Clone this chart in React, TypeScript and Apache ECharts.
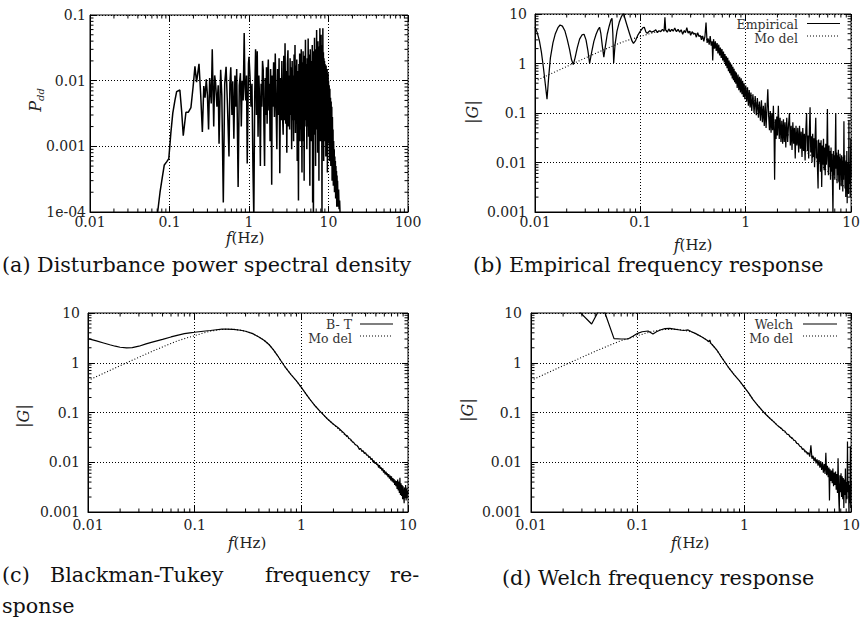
import React, { useEffect, useRef } from "react";
import * as echarts from "echarts";

// ---------------- data ----------------
const psdPoints: [number, number][] = [
  [0.066, 6e-5], [0.071, 1.0e-4], [0.076, 2.0e-4], [0.081, 3.3e-4], [0.086, 5.2e-4], [0.092, 5.8e-4], [0.098, 6.5e-4],
  [0.104, 1.6e-3], [0.11, 3.2e-3], [0.117, 5.0e-3], [0.123, 6.8e-3], [0.135, 7.2e-3], [0.142, 3.5e-3], [0.149, 1.45e-3],
  [0.161, 3.3e-3], [0.172, 3.3e-3], [0.186, 3.9e-3], [0.198, 8e-3], [0.209, 0.0165], [0.219, 9.5e-3], [0.235, 0.018],
  [0.247, 6e-3], [0.259, 1.65e-3], [0.27, 8.3e-3], [0.28, 5.5e-3], [0.29, 0.0105], [0.30, 6.0e-3], [0.31, 1.8e-3],
  [0.32, 0.011], [0.335, 4.5e-3], [0.345, 0.030], [0.36, 2.0e-3], [0.37, 0.012], [0.38, 9.3e-3], [0.395, 4.0e-3],
  [0.41, 8.5e-3], [0.42, 1.1e-3], [0.44, 0.0146], [0.455, 6.0e-3], [0.475, 1.4e-4], [0.495, 9.0e-3], [0.515, 0.0163],
  [0.535, 4.5e-3], [0.56, 7.0e-4], [0.575, 9.0e-3], [0.59, 0.016], [0.61, 3.0e-3], [0.625, 9.8e-3], [0.645, 1.3e-3],
  [0.665, 0.012], [0.685, 4.0e-3], [0.70, 0.015], [0.73, 2.4e-4], [0.755, 8.5e-3], [0.78, 0.013], [0.80, 2.0e-3],
  [0.82, 0.01], [0.845, 5.0e-3], [0.87, 0.053], [0.89, 8.0e-3], [0.91, 5.0e-3], [0.93, 0.012], [0.95, 5.5e-4],
  [0.97, 3.6e-3], [0.985, 0.018],
  [1.00, 0.023], [1.03, 0.0115], [1.06, 0.004], [1.09, 0.009], [1.12, 5e-4], [1.15, 8e-5], [1.18, 0.006], [1.21, 0.03],
  [1.24, 0.003], [1.27, 0.028], [1.30, 0.0014], [1.33, 0.012], [1.36, 0.005], [1.39, 5e-4], [1.42, 0.009], [1.45, 0.004],
  [1.48, 0.02], [1.51, 0.0146], [1.54, 0.002], [1.57, 5e-4], [1.60, 0.011], [1.63, 0.003], [1.66, 0.016], [1.69, 0.0022],
  [1.72, 0.012], [1.75, 0.021], [1.78, 0.0035], [1.81, 0.009], [1.84, 0.0012], [1.87, 0.015], [1.90, 0.005], [1.93, 2.6e-4],
  [1.96, 0.012], [1.99, 0.004],
  [2.04, 0.019], [2.09, 0.0028], [2.14, 0.026], [2.19, 0.004], [2.24, 0.0009], [2.29, 0.015], [2.34, 0.003], [2.39, 0.022],
  [2.44, 3.9e-4], [2.49, 0.011], [2.54, 0.0025], [2.59, 0.02], [2.64, 0.003], [2.69, 0.0015], [2.74, 0.024], [2.79, 0.0025],
  [2.84, 0.037], [2.89, 0.0022], [2.94, 0.014], [2.99, 8e-4], [3.04, 0.018], [3.09, 0.029], [3.14, 0.002], [3.19, 0.012],
  [3.24, 0.0018], [3.29, 0.022], [3.34, 0.003], [3.39, 0.016], [3.44, 0.0009], [3.49, 0.02], [3.54, 0.0025], [3.59, 0.012],
  [3.64, 0.0012], [3.69, 0.025], [3.74, 0.0025], [3.79, 0.035], [3.84, 0.0016], [3.89, 0.017], [3.94, 0.0022], [3.99, 0.021],
  [4.04, 6e-4], [4.09, 0.014], [4.14, 0.002], [4.19, 1.5e-4], [4.24, 0.018], [4.29, 0.0025], [4.34, 0.026], [4.39, 0.0012],
  [4.44, 0.012], [4.49, 0.0018], [4.54, 0.03], [4.59, 0.003], [4.64, 4e-4], [4.69, 0.019], [4.74, 0.0016], [4.79, 0.028],
  [4.84, 0.0012], [4.89, 0.011], [4.94, 3e-4], [4.99, 0.024],
  [5.06, 0.002], [5.13, 0.042], [5.20, 0.0025], [5.27, 0.018], [5.34, 9e-4], [5.41, 0.022], [5.48, 0.002], [5.55, 0.044],
  [5.62, 0.0014], [5.69, 0.025], [5.76, 0.0022], [5.83, 2.5e-4], [5.90, 0.03], [5.97, 0.0028], [6.04, 0.0012], [6.11, 0.02],
  [6.18, 0.0018], [6.25, 0.035], [6.32, 1.4e-4], [6.39, 0.012], [6.46, 7e-5], [6.53, 0.028], [6.60, 0.002], [6.67, 0.045],
  [6.74, 0.0015], [6.81, 0.022], [6.88, 5e-4], [6.95, 0.03], [7.02, 0.0025], [7.09, 0.059], [7.16, 0.0018], [7.23, 0.026],
  [7.30, 0.0008], [7.37, 0.04], [7.44, 0.002], [7.51, 0.02], [7.58, 3e-4], [7.65, 0.033], [7.72, 0.003], [7.79, 0.063],
  [7.86, 0.0012], [7.93, 0.028], [8.00, 0.002], [8.07, 0.05], [8.14, 0.0012], [8.21, 0.024], [8.28, 8e-5], [8.35, 0.035],
  [8.42, 0.0022], [8.49, 0.063], [8.56, 0.0018], [8.63, 0.027], [8.70, 6e-4], [8.77, 0.022], [8.84, 0.002], [8.91, 0.02],
  [8.98, 0.0012], [9.05, 0.018], [9.12, 0.0022], [9.19, 0.016], [9.26, 7e-4], [9.33, 0.017], [9.40, 0.0018], [9.47, 0.014],
  [9.54, 0.0015], [9.61, 0.015], [9.68, 4e-4], [9.75, 0.012], [9.82, 0.0016], [9.89, 0.013], [9.96, 0.0011],
  [10.0, 0.010], [10.1, 0.002], [10.2, 0.0085], [10.3, 6e-4], [10.4, 0.0075], [10.5, 0.0015], [10.6, 0.0055], [10.7, 5e-4],
  [10.8, 0.0048], [10.9, 0.0012], [11.0, 0.004], [11.1, 3e-4], [11.2, 0.0028], [11.3, 8e-4], [11.4, 0.0018], [11.5, 2.5e-4],
  [11.6, 0.0012], [11.7, 5e-4], [11.8, 0.0009], [11.9, 2e-4], [12.0, 0.0007], [12.1, 3.5e-4], [12.2, 0.0006], [12.3, 1.6e-4],
  [12.4, 5e-4], [12.5, 2.5e-4], [12.6, 4.2e-4], [12.7, 1.2e-4], [12.8, 3.6e-4], [12.9, 1.8e-4], [13.0, 3e-4], [13.2, 1.2e-4],
  [13.4, 2.2e-4], [13.6, 1.1e-4], [13.8, 1.5e-4], [14.0, 9e-5], [14.3, 6e-5],
];

const empiricalPoints: [number, number][] = [
  [0.0100, 5.5], [0.0105, 4.2], [0.0110, 2.9], [0.0115, 1.7], [0.0120, 0.85], [0.0125, 0.40], [0.0130, 0.19], [0.0135, 0.55],
  [0.0140, 1.3], [0.0148, 2.6], [0.0156, 4.0], [0.0165, 5.3], [0.0173, 6.0], [0.0182, 5.7], [0.0192, 4.6], [0.0202, 3.1],
  [0.0213, 1.9], [0.0222, 1.2], [0.0231, 0.95], [0.0240, 1.3], [0.0252, 2.1], [0.0265, 3.1], [0.0280, 3.8], [0.0292, 3.9],
  [0.0305, 3.0], [0.0318, 1.8], [0.0330, 1.0], [0.0345, 1.7], [0.0362, 2.8], [0.0380, 3.9], [0.0398, 4.9], [0.0410, 5.4],
  [0.0422, 4.0], [0.0435, 2.3], [0.0450, 1.35], [0.0465, 2.2], [0.0485, 3.9], [0.0505, 5.6], [0.0525, 7.5], [0.0538, 8.2],
  [0.0548, 4.0], [0.0558, 1.03], [0.0575, 2.4], [0.0600, 4.5], [0.0630, 6.8], [0.0660, 8.8], [0.0693, 10.5], [0.0715, 8.0],
  [0.0745, 6.0], [0.0790, 4.0], [0.0830, 2.9], [0.0860, 2.55], [0.0900, 2.9], [0.0950, 3.8], [0.1000, 4.5], [0.1060, 5.3],
  [0.1090, 5.4], [0.1130, 4.3], [0.1160, 4.1], [0.1230, 4.6], [0.128, 4.3], [0.135, 4.5], [0.14, 4.8], [0.145, 4.2],
  [0.15, 4.6], [0.156, 4.4], [0.162, 4.9], [0.168, 4.5], [0.171, 8.6], [0.174, 4.7], [0.18, 4.3], [0.186, 5.0],
  [0.192, 4.4], [0.198, 4.9], [0.205, 4.5], [0.212, 5.2], [0.22, 4.4], [0.228, 4.9], [0.236, 4.3], [0.244, 4.8],
  [0.252, 3.9], [0.26, 4.6], [0.268, 4.2], [0.276, 5.3], [0.284, 4.1], [0.292, 4.5], [0.30, 3.7], [0.31, 4.4],
  [0.32, 3.9], [0.33, 4.1], [0.34, 3.4], [0.35, 4.2], [0.36, 3.5], [0.37, 3.7], [0.38, 3.0], [0.39, 3.6],
  [0.40, 2.8], [0.41, 3.5], [0.42, 6.7], [0.43, 2.6], [0.44, 3.2], [0.45, 2.4], [0.46, 3.6], [0.47, 2.3],
  [0.48, 2.8], [0.486, 1.15], [0.495, 3.1], [0.505, 2.0], [0.515, 2.8], [0.525, 1.8], [0.535, 2.6], [0.545, 1.6],
  [0.555, 2.4], [0.565, 1.45], [0.575, 2.1], [0.585, 1.3], [0.595, 1.95], [0.605, 1.15], [0.615, 1.75], [0.625, 1.05],
  [0.635, 1.55], [0.645, 0.9], [0.655, 1.4], [0.665, 0.8], [0.675, 1.3], [0.685, 0.7], [0.695, 1.15], [0.705, 0.64],
  [0.715, 1.05], [0.725, 0.57], [0.735, 0.95], [0.745, 0.5], [0.755, 0.86], [0.765, 0.46], [0.775, 0.78], [0.785, 0.42],
  [0.795, 0.7], [0.805, 0.39], [0.815, 0.66], [0.83, 0.32], [0.845, 0.6], [0.86, 0.29], [0.875, 0.54], [0.89, 0.26],
  [0.905, 0.5], [0.92, 0.24], [0.935, 0.45], [0.95, 0.21], [0.965, 0.4], [0.98, 0.19], [1.0, 0.36], [1.02, 0.17],
  [1.04, 0.33], [1.06, 0.14], [1.08, 0.29], [1.10, 0.13], [1.12, 0.26], [1.14, 0.11], [1.17, 0.24], [1.20, 0.1],
  [1.23, 0.22], [1.26, 0.09], [1.29, 0.2], [1.32, 0.08], [1.35, 0.17], [1.38, 0.07], [1.41, 0.18], [1.44, 0.065],
  [1.47, 0.14], [1.50, 0.055], [1.53, 0.16], [1.56, 0.05], [1.59, 0.12], [1.62, 0.3], [1.65, 0.09], [1.68, 0.045],
  [1.71, 0.11], [1.74, 0.04], [1.77, 0.1], [1.80, 0.045], [1.83, 0.14], [1.86, 0.035], [1.88, 0.0045], [1.91, 0.075],
  [1.94, 0.03], [1.97, 0.085], [2.00, 0.035], [2.04, 0.14], [2.08, 0.03], [2.12, 0.08], [2.16, 0.026], [2.20, 0.07],
  [2.24, 0.024], [2.28, 0.075], [2.32, 0.026], [2.36, 0.065], [2.40, 0.02], [2.45, 0.08], [2.50, 0.026], [2.55, 0.06],
  [2.60, 0.1], [2.65, 0.022], [2.70, 0.055], [2.75, 0.018], [2.80, 0.065], [2.85, 0.024], [2.90, 0.05], [2.95, 0.012],
  [3.00, 0.055], [3.06, 0.022], [3.12, 0.05], [3.18, 0.016], [3.24, 0.055], [3.30, 0.019], [3.36, 0.042], [3.42, 0.013],
  [3.48, 0.05], [3.54, 0.017], [3.60, 0.038], [3.66, 0.011], [3.72, 0.045], [3.78, 0.1], [3.84, 0.017], [3.90, 0.035],
  [3.96, 0.012], [4.02, 0.045], [4.08, 0.13], [4.14, 0.016], [4.20, 0.034], [4.26, 0.01], [4.32, 0.038], [4.38, 0.013],
  [4.44, 0.031], [4.50, 0.008], [4.56, 0.035], [4.62, 0.08], [4.68, 0.012], [4.74, 0.028], [4.80, 0.0075], [4.86, 0.003],
  [4.92, 0.029], [4.98, 0.01], [5.05, 0.025], [5.12, 0.0065], [5.19, 0.028], [5.26, 0.0032], [5.33, 0.022], [5.40, 0.009],
  [5.47, 0.03], [5.54, 0.007], [5.61, 0.02], [5.68, 0.0055], [5.75, 0.024], [5.82, 0.009], [5.89, 0.018], [5.96, 0.12],
  [6.03, 0.011], [6.10, 0.0055], [6.17, 0.022], [6.24, 0.008], [6.31, 0.017], [6.38, 0.0045], [6.45, 0.02], [6.52, 0.0065],
  [6.59, 0.015], [6.66, 0.0038], [6.73, 0.0008], [6.80, 0.017], [6.87, 0.0055], [6.94, 0.014], [7.01, 0.0045], [7.08, 0.02],
  [7.15, 0.1], [7.22, 0.0075], [7.29, 0.016], [7.36, 0.0038], [7.43, 0.014], [7.50, 0.0055], [7.57, 0.018], [7.64, 0.0042],
  [7.71, 0.013], [7.78, 0.0028], [7.85, 0.015], [7.92, 0.0055], [7.99, 0.012], [8.06, 0.0033], [8.13, 0.014], [8.20, 0.0045],
  [8.27, 0.011], [8.34, 0.0026], [8.41, 0.013], [8.48, 0.0045], [8.55, 0.068], [8.62, 0.0055], [8.69, 0.014], [8.76, 0.003],
  [8.83, 0.01], [8.90, 0.002], [8.97, 0.011], [9.04, 0.0037], [9.11, 0.017], [9.18, 0.0015], [9.25, 0.009], [9.32, 0.0028],
  [9.39, 0.01], [9.46, 0.0023], [9.53, 0.072], [9.60, 0.0055], [9.67, 0.0037], [9.74, 0.009], [9.81, 0.002], [9.88, 0.011],
  [9.95, 0.03], [10.0, 0.005],
];

const blackmanTukeyPoints: [number, number][] = [
  [0.01, 3.05], [0.012, 2.75], [0.014, 2.5], [0.016, 2.3], [0.018, 2.15], [0.02, 2.05], [0.023, 1.99], [0.026, 2.02],
  [0.03, 2.15], [0.035, 2.4], [0.04, 2.6], [0.05, 2.95], [0.06, 3.3], [0.07, 3.6], [0.08, 3.85], [0.09, 4.0],
  [0.1, 4.1], [0.12, 4.3], [0.14, 4.45], [0.16, 4.6], [0.18, 4.72], [0.2, 4.75], [0.23, 4.7], [0.27, 4.5],
  [0.3, 4.3], [0.35, 3.85], [0.4, 3.3], [0.45, 2.8], [0.5, 2.3], [0.55, 1.8], [0.6, 1.38], [0.65, 1.06],
  [0.7, 0.84], [0.8, 0.58], [0.9, 0.43], [1.0, 0.32], [1.1, 0.24], [1.2, 0.185], [1.35, 0.135], [1.5, 0.105],
  [1.75, 0.075], [2.0, 0.058], [2.2, 0.05], [2.4, 0.042], [2.5, 0.039], [2.6, 0.035], [2.7, 0.034], [2.8, 0.03],
  [2.9, 0.029], [3.0, 0.026], [3.1, 0.025], [3.2, 0.0225], [3.3, 0.022], [3.4, 0.0205], [3.5, 0.018], [3.6, 0.019],
  [3.7, 0.0165], [3.8, 0.017], [3.9, 0.015], [4.0, 0.0155], [4.1, 0.0138], [4.2, 0.014], [4.3, 0.0125], [4.4, 0.013],
  [4.5, 0.0113], [4.6, 0.0119], [4.7, 0.0101], [4.8, 0.0108], [4.9, 0.0094], [5.0, 0.0098], [5.1, 0.0089], [5.2, 0.0093],
  [5.3, 0.0078], [5.4, 0.0087], [5.5, 0.0074], [5.6, 0.0079], [5.7, 0.0068], [5.8, 0.0075], [5.9, 0.0062], [6.0, 0.0069],
  [6.1, 0.0057], [6.2, 0.0065], [6.3, 0.0055], [6.4, 0.006], [6.5, 0.005], [6.6, 0.0058], [6.7, 0.0047], [6.8, 0.0054],
  [6.9, 0.0043], [7.0, 0.0052], [7.1, 0.0041], [7.2, 0.0048], [7.3, 0.0039], [7.4, 0.0046], [7.5, 0.0035], [7.6, 0.0043],
  [7.7, 0.0033], [7.8, 0.0042], [7.9, 0.0029], [8.0, 0.0045], [8.1, 0.0027], [8.2, 0.0041], [8.3, 0.0024], [8.4, 0.0049],
  [8.5, 0.0022], [8.6, 0.0038], [8.7, 0.0021], [8.8, 0.0035], [8.9, 0.0018], [9.0, 0.0033], [9.1, 0.0022], [9.2, 0.0015],
  [9.3, 0.0031], [9.4, 0.0019], [9.5, 0.0035], [9.6, 0.0017], [9.7, 0.0029], [9.8, 0.0019], [9.9, 0.0027], [10.0, 0.0023],
];

const welchPoints: [number, number][] = [
  [0.01, 40], [0.0175, 25], [0.025, 14], [0.037, 6.0], [0.0425, 10.5], [0.049, 10.5], [0.06, 3.05], [0.07, 3.0],
  [0.081, 3.0], [0.09, 3.4], [0.1, 3.9], [0.11, 4.2], [0.125, 4.35], [0.139, 3.8], [0.15, 4.2], [0.165, 4.6],
  [0.18, 4.85], [0.2, 4.9], [0.22, 4.75], [0.25, 4.55], [0.27, 4.45], [0.297, 4.56], [0.32, 4.2], [0.35, 3.85],
  [0.4, 3.3], [0.45, 2.8], [0.465, 2.65], [0.474, 2.87], [0.485, 2.45], [0.5, 2.3], [0.55, 1.82], [0.59, 1.45],
  [0.6, 1.36], [0.65, 1.06], [0.7, 0.84], [0.8, 0.58], [0.9, 0.43], [1.0, 0.32], [1.1, 0.245], [1.2, 0.183],
  [1.35, 0.135], [1.5, 0.104], [1.6, 0.09], [1.75, 0.075], [1.9, 0.064], [2.0, 0.057], [2.1, 0.052], [2.2, 0.049],
  [2.3, 0.044], [2.4, 0.042], [2.5, 0.037], [2.6, 0.036], [2.7, 0.032], [2.8, 0.031], [2.9, 0.028], [3.0, 0.027],
  [3.1, 0.024], [3.2, 0.0235], [3.3, 0.021], [3.4, 0.0205], [3.5, 0.018], [3.6, 0.0185], [3.7, 0.016], [3.8, 0.0165],
  [3.9, 0.0145], [4.0, 0.0155], [4.1, 0.013], [4.2, 0.022], [4.3, 0.0118], [4.4, 0.0135], [4.5, 0.0105], [4.6, 0.0125],
  [4.7, 0.0095], [4.8, 0.0115], [4.9, 0.0085], [5.0, 0.011], [5.1, 0.0078], [5.2, 0.0105], [5.3, 0.007], [5.4, 0.0098],
  [5.5, 0.0062], [5.6, 0.0092], [5.7, 0.0058], [5.8, 0.0155], [5.9, 0.0055], [6.0, 0.0085], [6.1, 0.005], [6.2, 0.0078],
  [6.27, 0.0017], [6.35, 0.0072], [6.45, 0.0042], [6.55, 0.0068], [6.65, 0.0038], [6.75, 0.0075], [6.85, 0.0033], [6.95, 0.0062],
  [7.05, 0.0035], [7.15, 0.0065], [7.25, 0.0028], [7.35, 0.0058], [7.45, 0.0024], [7.55, 0.012], [7.65, 0.0022], [7.75, 0.001],
  [7.85, 0.0055], [7.95, 0.0025], [8.05, 0.006], [8.15, 0.002], [8.25, 0.0052], [8.35, 0.0018], [8.45, 0.0048], [8.55, 0.0012],
  [8.65, 0.0045], [8.75, 0.0022], [8.85, 0.0075], [8.95, 0.0015], [9.05, 0.004], [9.15, 0.0018], [9.25, 0.026], [9.35, 0.0025],
  [9.45, 0.0042], [9.55, 0.0009], [9.65, 0.0035], [9.75, 0.0015], [9.85, 0.021], [9.92, 0.0012], [10.0, 0.004],
];

const modelPoints: [number, number][] = [
  [0.01, 0.44], [0.013, 0.57], [0.016, 0.7], [0.02, 0.87], [0.025, 1.08], [0.03, 1.29], [0.04, 1.7], [0.05, 2.08],
  [0.06, 2.45], [0.07, 2.78], [0.08, 3.05], [0.1, 3.5], [0.12, 3.95], [0.14, 4.3], [0.17, 4.6], [0.2, 4.72],
  [0.23, 4.7], [0.27, 4.5], [0.3, 4.3], [0.35, 3.85], [0.4, 3.3], [0.45, 2.8], [0.5, 2.3], [0.55, 1.8],
  [0.6, 1.38], [0.65, 1.06], [0.7, 0.84], [0.8, 0.58], [0.9, 0.43], [1.0, 0.32], [1.1, 0.24], [1.2, 0.185],
  [1.35, 0.135], [1.5, 0.105], [1.75, 0.075], [2.0, 0.058], [2.5, 0.037], [3.0, 0.026], [4.0, 0.0148], [5.0, 0.0095],
  [6.0, 0.0066], [7.0, 0.0049], [8.0, 0.0037], [9.0, 0.003], [10.0, 0.0024],
];

const xTickLabelsA = ["0.01", "0.1", "1", "10", "100"];
const yTickLabelsA = ["1e-04", "0.001", "0.01", "0.1"];
const xTickLabelsG = ["0.01", "0.1", "1", "10"];
const yTickLabelsG = ["0.001", "0.01", "0.1", "1", "10"];

const captionA = "(a) Disturbance power spectral density";
const captionB = "(b) Empirical frequency response";
const captionCWords = ["(c)", "Blackman-Tukey", "frequency", "re-"];
const captionCTail = "sponse";
const captionD = "(d) Welch frequency response";

// ---------------- chart ----------------
const FONT = '"DejaVu Serif", serif';

type Panel = {
  rect: { left: number; top: number; width: number; height: number };
  xe: [number, number];
  ye: [number, number];
  xLabels: string[];
  yLabels: string[];
  xMargin: number;
  yMargin: number;
};

const panels: Panel[] = [
  { rect: { left: 90, top: 15, width: 318, height: 197 }, xe: [-2, 2], ye: [-4, -1], xLabels: xTickLabelsA, yLabels: yTickLabelsA, xMargin: 3, yMargin: 4 },
  { rect: { left: 535, top: 14, width: 320, height: 198 }, xe: [-2, 1], ye: [-3, 1], xLabels: xTickLabelsG, yLabels: yTickLabelsG, xMargin: 3, yMargin: 8 },
  { rect: { left: 88, top: 313, width: 320, height: 199 }, xe: [-2, 1], ye: [-3, 1], xLabels: xTickLabelsG, yLabels: yTickLabelsG, xMargin: 6, yMargin: 8 },
  { rect: { left: 531, top: 313, width: 321, height: 199 }, xe: [-2, 1], ye: [-3, 1], xLabels: xTickLabelsG, yLabels: yTickLabelsG, xMargin: 6, yMargin: 9 },
];

// minor tick values (2..9 in every decade): [value, 0 = x axis / 1 = y axis]
function minorTickItems(p: Panel): number[][] {
  const out: number[][] = [];
  for (let e = p.xe[0]; e < p.xe[1]; e++) {
    for (let m = 2; m <= 9; m++) out.push([m * Math.pow(10, e), 0]);
  }
  for (let e = p.ye[0]; e < p.ye[1]; e++) {
    for (let m = 2; m <= 9; m++) out.push([m * Math.pow(10, e), 1]);
  }
  return out;
}

const lineSeries = (data: [number, number][], idx: number, dotted: boolean, width = 1) => ({
  type: "line",
  xAxisIndex: idx,
  yAxisIndex: idx,
  data,
  showSymbol: false,
  symbol: "none",
  clip: true,
  silent: true,
  lineStyle: { color: "#000", width: dotted ? 1.1 : width, type: dotted ? [1, 2] : "solid" },
  z: dotted ? 3 : 4,
});

const textEl = (x: number, y: number, text: string, size: number, align: string, extra: any = {}) => ({
  type: "text",
  x,
  y,
  silent: true,
  rotation: extra.rotation || 0,
  style: {
    text,
    fontFamily: FONT,
    fontSize: size,
    fill: extra.fill || "#111",
    align,
    verticalAlign: "middle",
    ...(extra.style || {}),
  },
});

const segment = (x1: number, y1: number, x2: number, y2: number, dotted = false, w = 1) => ({
  type: "line",
  silent: true,
  z: 10,
  shape: { x1, y1, x2, y2 },
  style: { stroke: "#000", lineWidth: w, lineDash: dotted ? [1, 2] : null },
});

const gRich = {
  i: { fontFamily: FONT, fontStyle: "italic", fontSize: 16, fill: "#222" },
};

const tickStyle = { color: "#000", width: 1 };

export default function App() {
  const ref = useRef<HTMLDivElement>(null);
  useEffect(() => {
    if (!ref.current) return;
    const chart = echarts.init(ref.current, undefined, { renderer: "svg" });

    const grid = panels.map((p) => ({
      ...p.rect,
      show: true,
      borderColor: "#000",
      borderWidth: 1,
      backgroundColor: "transparent",
      containLabel: false,
    }));

    const labelStyle = { color: "#222", fontFamily: FONT, fontSize: 14 };
    const majorTick = { show: true, inside: true, length: 6, lineStyle: tickStyle };
    const xMain = panels.map((p, i) => ({
      type: "log",
      logBase: 10,
      gridIndex: i,
      min: Math.pow(10, p.xe[0]),
      max: Math.pow(10, p.xe[1]),
      position: "bottom",
      axisLine: { show: true, lineStyle: { color: "#000", width: 1 } },
      axisTick: majorTick,
      axisLabel: {
        ...labelStyle,
        margin: p.xMargin,
        showMinLabel: true,
        showMaxLabel: true,
        formatter: (v: number) => p.xLabels[Math.round(Math.log10(v)) - p.xe[0]] ?? "",
      },
      splitLine: { show: true, lineStyle: { color: "#000", width: 1, type: [1, 2] } },
    }));
    const xMirror = panels.map((p, i) => ({
      type: "log",
      logBase: 10,
      gridIndex: i,
      min: Math.pow(10, p.xe[0]),
      max: Math.pow(10, p.xe[1]),
      position: "top",
      axisLine: { show: false },
      axisTick: majorTick,
      axisLabel: { show: false },
      splitLine: { show: false },
    }));
    const yMain = panels.map((p, i) => ({
      type: "log",
      logBase: 10,
      gridIndex: i,
      min: Math.pow(10, p.ye[0]),
      max: Math.pow(10, p.ye[1]),
      position: "left",
      axisLine: { show: true, lineStyle: { color: "#000", width: 1 } },
      axisTick: majorTick,
      axisLabel: {
        ...labelStyle,
        margin: p.yMargin,
        showMinLabel: true,
        showMaxLabel: true,
        formatter: (v: number) => p.yLabels[Math.round(Math.log10(v)) - p.ye[0]] ?? "",
      },
      splitLine: { show: true, lineStyle: { color: "#000", width: 1, type: [1, 2] } },
    }));
    const yMirror = panels.map((p, i) => ({
      type: "log",
      logBase: 10,
      gridIndex: i,
      min: Math.pow(10, p.ye[0]),
      max: Math.pow(10, p.ye[1]),
      position: "right",
      axisLine: { show: false },
      axisTick: majorTick,
      axisLabel: { show: false },
      splitLine: { show: false },
    }));

    const graphic: any[] = [
      // captions
      textEl(2, 265, captionA, 20.7, "left"),
      textEl(473, 265, captionB, 20.7, "left"),
      textEl(2, 575, captionCWords[0], 20.7, "left"),
      textEl(50, 575, captionCWords[1], 20.7, "left"),
      textEl(265, 575, captionCWords[2], 20.7, "left"),
      textEl(390, 575, captionCWords[3], 20.7, "left"),
      textEl(2, 606, captionCTail, 20.7, "left"),
      textEl(502, 578, captionD, 20.7, "left"),
      // x axis names
      textEl(245, 238, "{i|f}(Hz)", 15, "center", { style: { rich: gRich, fill: "#222" } }),
      textEl(693, 245, "{i|f}(Hz)", 15, "center", { style: { rich: gRich, fill: "#222" } }),
      textEl(247, 543, "{i|f}(Hz)", 15, "center", { style: { rich: gRich, fill: "#222" } }),
      textEl(690, 543, "{i|f}(Hz)", 15, "center", { style: { rich: gRich, fill: "#222" } }),
      // y axis names
      textEl(35, 100, "{i|P}{s|dd}", 16, "center", {
        rotation: Math.PI / 2,
        style: {
          fill: "#222",
          rich: {
            i: { fontFamily: FONT, fontStyle: "italic", fontSize: 16, lineHeight: 20, fill: "#222" },
            s: { fontFamily: FONT, fontStyle: "italic", fontSize: 10, lineHeight: 10, verticalAlign: "bottom", fill: "#222" },
          },
        },
      }),
      textEl(472, 112, "|{i|G}|", 16, "center", { rotation: Math.PI / 2, style: { rich: gRich, fill: "#222" } }),
      textEl(23, 416, "|{i|G}|", 16, "center", { rotation: Math.PI / 2, style: { rich: gRich, fill: "#222" } }),
      textEl(467, 410, "|{i|G}|", 16, "center", { rotation: Math.PI / 2, style: { rich: gRich, fill: "#222" } }),
      // legends
      textEl(798, 24, "Empirical", 12.5, "right", { fill: "#333" }),
      segment(807, 23.5, 840, 23.5, false, 1.2),
      textEl(798, 38, "Mo del", 12.5, "right", { fill: "#333" }),
      segment(807, 36, 840, 36, true, 1.1),
      textEl(352, 324, "B- T", 12.5, "right", { fill: "#333" }),
      segment(360, 324, 393, 324, false, 1.2),
      textEl(352, 338.5, "Mo del", 12.5, "right", { fill: "#333" }),
      segment(360, 336, 393, 336, true, 1.1),
      textEl(793, 324, "Welch", 12.5, "right", { fill: "#333" }),
      segment(803, 324, 837, 324, false, 1.2),
      textEl(793, 338.5, "Mo del", 12.5, "right", { fill: "#333" }),
      segment(803, 336, 837, 336, true, 1.1),
    ];

    chart.setOption({
      animation: false,
      backgroundColor: "#fff",
      grid,
      xAxis: [...xMain, ...xMirror],
      yAxis: [...yMain, ...yMirror],
      series: [
        lineSeries(psdPoints, 0, false, 1.5),
        lineSeries(modelPoints, 1, true),
        lineSeries(empiricalPoints, 1, false, 1.25),
        lineSeries(modelPoints, 2, true),
        lineSeries(blackmanTukeyPoints, 2, false, 1.2),
        lineSeries(modelPoints, 3, true),
        lineSeries(welchPoints, 3, false, 1.2),
      ],
      graphic,
    } as any);

    // minor ticks on all four sides, placed through the axes' own log scales
    const minor: any[] = [];
    const len = 3.5;
    panels.forEach((p, i) => {
      const xMin = Math.pow(10, p.xe[0]);
      const xMax = Math.pow(10, p.xe[1]);
      const yMin = Math.pow(10, p.ye[0]);
      const yMax = Math.pow(10, p.ye[1]);
      const finder: any = { xAxisIndex: i, yAxisIndex: i };
      minorTickItems(p).forEach(([v, axis]) => {
        if (axis === 0) {
          const b = chart.convertToPixel(finder, [v, yMin]) as number[];
          const t = chart.convertToPixel(finder, [v, yMax]) as number[];
          if (!b || !t) return;
          minor.push(segment(b[0], b[1], b[0], b[1] - len));
          minor.push(segment(t[0], t[1], t[0], t[1] + len));
        } else {
          const l = chart.convertToPixel(finder, [xMin, v]) as number[];
          const r = chart.convertToPixel(finder, [xMax, v]) as number[];
          if (!l || !r) return;
          minor.push(segment(l[0], l[1], l[0] + len, l[1]));
          minor.push(segment(r[0], r[1], r[0] - len, r[1]));
        }
      });
    });
    if (minor.length) chart.setOption({ graphic: [...graphic, ...minor] } as any);

    return () => chart.dispose();
  }, []);

  return (
    <div
      ref={ref}
      style={{ position: "fixed", left: 0, top: 0, width: 863, height: 623, background: "#fff" }}
    />
  );
}
